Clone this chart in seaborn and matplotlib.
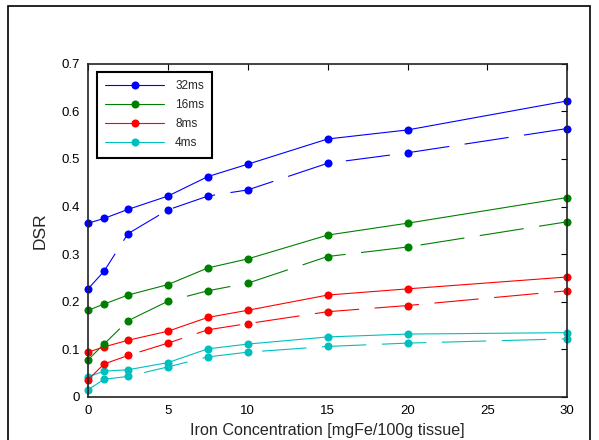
import matplotlib
matplotlib.use("Agg")
import matplotlib.pyplot as plt
import seaborn as sns
from matplotlib.patches import Rectangle
from matplotlib.ticker import FuncFormatter

# iron concentration [mgFe/100g tissue]
iron = [0, 1, 2.5, 5, 7.5, 10, 15, 20, 30]

# solid curves
dsr_32 = [0.365, 0.375, 0.394, 0.422, 0.463, 0.489, 0.542, 0.561, 0.622]
dsr_16 = [0.182, 0.195, 0.214, 0.236, 0.271, 0.290, 0.340, 0.365, 0.419]
dsr_8 = [0.094, 0.105, 0.119, 0.138, 0.167, 0.182, 0.214, 0.227, 0.252]
dsr_4 = [0.042, 0.054, 0.057, 0.072, 0.101, 0.111, 0.126, 0.132, 0.135]

# dashed curves
dsr_32b = [0.227, 0.264, 0.343, 0.393, 0.422, 0.435, 0.491, 0.513, 0.564]
dsr_16b = [0.078, 0.111, 0.160, 0.201, 0.223, 0.239, 0.295, 0.315, 0.368]
dsr_8b = [0.036, 0.069, 0.087, 0.113, 0.141, 0.154, 0.179, 0.192, 0.223]
dsr_4b = [0.015, 0.037, 0.043, 0.063, 0.084, 0.094, 0.106, 0.113, 0.122]

labels = ["32ms", "16ms", "8ms", "4ms"]
colors = ["#0000ff", "#008000", "#ff0000", "#00bfbf"]
solid = [dsr_32, dsr_16, dsr_8, dsr_4]
dashed = [dsr_32b, dsr_16b, dsr_8b, dsr_4b]

sns.set_style("white")
plt.rcParams["font.family"] = ["Liberation Sans", "DejaVu Sans"]

fig = plt.figure(figsize=(5.99, 4.4), dpi=100)
ax = fig.add_axes([0.147, 0.098, 0.800, 0.757])

for ys, lab, c in zip(solid, labels, colors):
    sns.lineplot(x=iron, y=ys, ax=ax, color=c, marker="o", markersize=5.8,
                 markeredgewidth=0, linewidth=0.8, label=lab, clip_on=False)
for ys, c in zip(dashed, colors):
    sns.lineplot(x=iron, y=ys, ax=ax, color=c, marker="o", markersize=5.8,
                 markeredgewidth=0, linewidth=0.8, linestyle=(0, (40, 14)),
                 clip_on=False)

ax.set_xlim(0, 30)
ax.set_ylim(0, 0.7)
ax.set_xticks([0, 5, 10, 15, 20, 25, 30])
ax.set_yticks([0, 0.1, 0.2, 0.3, 0.4, 0.5, 0.6, 0.7])
ax.yaxis.set_major_formatter(FuncFormatter(lambda v, p: "0" if v == 0 else f"{v:.1f}"))
ax.tick_params(direction="in", length=4, width=0.8, top=True, right=True,
               labelsize=9.5, colors="black", pad=6)
for s in ax.spines.values():
    s.set_linewidth(1.2)
    s.set_color("#222222")

ax.set_xlabel("Iron Concentration [mgFe/100g tissue]", fontsize=11.6, labelpad=4)
ax.set_ylabel("DSR", fontsize=12.5, labelpad=10)

leg = ax.legend(loc="upper left", bbox_to_anchor=(0.019, 0.976), borderaxespad=0,
                fontsize=8.5, handlelength=5.0, handletextpad=0.9, borderpad=0.7,
                labelspacing=0.6, fancybox=False, framealpha=1,
                edgecolor="black")
leg.get_frame().set_linewidth(1.5)

# outer figure border
fig.patches.append(Rectangle((8 / 599, -0.05), 582 / 599, 1.036, transform=fig.transFigure,
                             fill=False, edgecolor="black", linewidth=1.2, clip_on=False))

fig.savefig("out.png", dpi=100, facecolor="white")
